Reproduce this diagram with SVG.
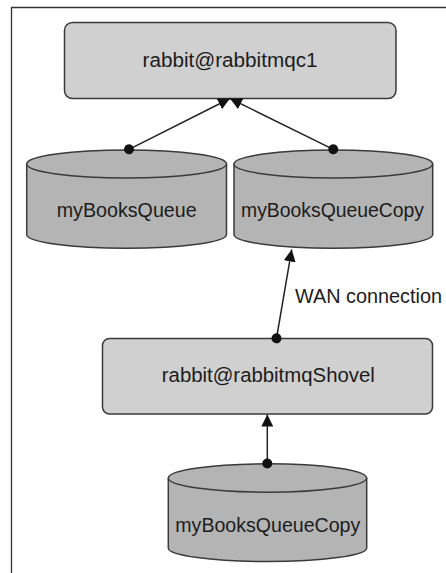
<svg xmlns="http://www.w3.org/2000/svg" width="446" height="573" viewBox="0 0 446 573">
  <style>
    .frame { fill: none; stroke: #333; stroke-width: 1.3; }
    .box { fill: #d0d0d0; stroke: #3a3a3a; stroke-width: 1.5; }
    .cyl { fill: #b4b4b4; stroke: #3a3a3a; stroke-width: 1.5; }
    .lbl { font-family: "Liberation Sans", Arial, sans-serif; font-size: 19.5px; fill: #1c1c1c; }
    .mid { text-anchor: middle; }
    .conn { fill: none; stroke: #222; stroke-width: 1.5; marker-start: url(#dot); marker-end: url(#arrow); }
  </style>
  <defs>
    <marker id="arrow" viewBox="0 0 12 12" refX="12" refY="6" markerWidth="12" markerHeight="12" markerUnits="userSpaceOnUse" orient="auto">
      <path d="M0,0 L12,6 L0,12 Z" fill="#111"/>
    </marker>
    <marker id="dot" viewBox="0 0 11 11" refX="5.5" refY="5.5" markerWidth="11" markerHeight="11" markerUnits="userSpaceOnUse" orient="auto">
      <circle cx="5.5" cy="5.5" r="5" fill="#111"/>
    </marker>
  </defs>

  <path class="frame" d="M11.5,573 L11.5,7.5 L446,7.5"/>

  <g id="node-rabbitmqc1">
    <rect class="box" x="64.5" y="22.5" width="331.5" height="76" rx="8" ry="8"/>
    <text class="lbl mid" x="230" y="66.7" textLength="175" lengthAdjust="spacingAndGlyphs">rabbit@rabbitmqc1</text>
  </g>

  <g id="node-myBooksQueue">
    <path class="cyl" d="M26.7,164 L26.7,234.5 A99.9,13.8 0 0 0 226.5,234.5 L226.5,164 A99.9,14 0 0 0 26.7,164 Z"/>
    <path class="cyl" d="M26.7,164 A99.9,14 0 0 0 226.5,164"/>
    <text class="lbl mid" x="126.7" y="216.7" textLength="140" lengthAdjust="spacingAndGlyphs">myBooksQueue</text>
  </g>

  <g id="node-myBooksQueueCopy-top">
    <path class="cyl" d="M234,164 L234,234.5 A99.35,13.8 0 0 0 432.7,234.5 L432.7,164 A99.35,14 0 0 0 234,164 Z"/>
    <path class="cyl" d="M234,164 A99.35,14 0 0 0 432.7,164"/>
    <text class="lbl mid" x="332.5" y="217.3" textLength="183" lengthAdjust="spacingAndGlyphs">myBooksQueueCopy</text>
  </g>

  <g id="node-rabbitmqShovel">
    <rect class="box" x="102.5" y="338.5" width="330" height="75.5" rx="7" ry="7"/>
    <text class="lbl mid" x="268.3" y="381.7" textLength="213" lengthAdjust="spacingAndGlyphs">rabbit@rabbitmqShovel</text>
  </g>

  <g id="node-myBooksQueueCopy-bottom">
    <path class="cyl" d="M168.3,478 L168.3,548 A99.2,13.6 0 0 0 366.7,548 L366.7,478 A99.2,14.2 0 0 0 168.3,478 Z"/>
    <path class="cyl" d="M168.3,478 A99.2,14.2 0 0 0 366.7,478"/>
    <text class="lbl mid" x="267.8" y="531.7" textLength="185" lengthAdjust="spacingAndGlyphs">myBooksQueueCopy</text>
  </g>

  <g id="connectors">
    <line class="conn" x1="129" y1="149.3" x2="230" y2="98.5"/>
    <line class="conn" x1="333.3" y1="149.3" x2="230" y2="98.5"/>
    <line class="conn" x1="276.5" y1="338.3" x2="291.7" y2="249.5"/>
    <line class="conn" x1="267.3" y1="463.5" x2="267.3" y2="414.5"/>
    <text class="lbl" x="295" y="302.7" textLength="147" lengthAdjust="spacingAndGlyphs">WAN connection</text>
  </g>
</svg>
